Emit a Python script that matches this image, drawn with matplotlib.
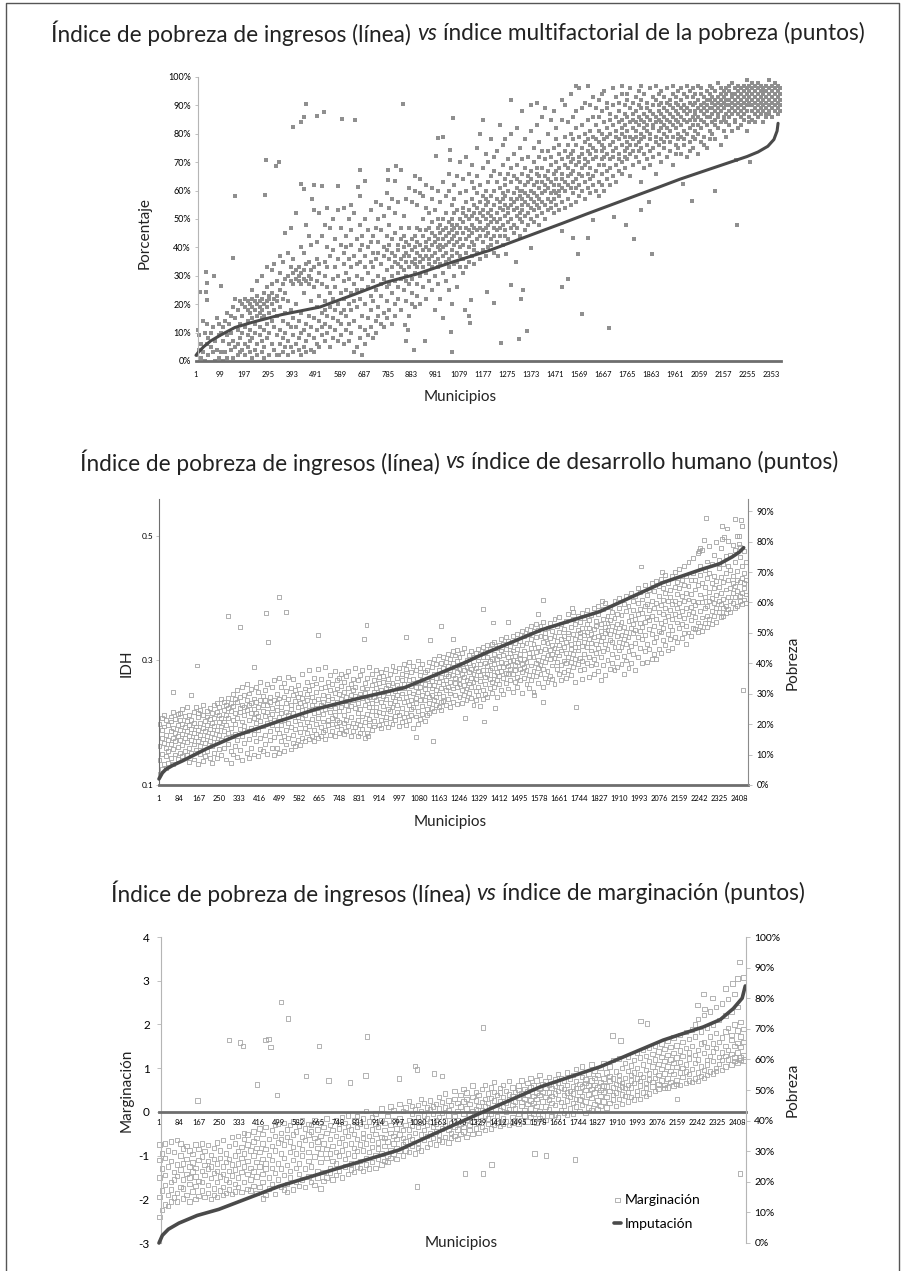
import matplotlib
matplotlib.use("Agg")
import matplotlib.pyplot as plt
from matplotlib.lines import Line2D

W, H = 903, 1271
FONT = "Lato"
DARK = "#4a4a4a"
AXIS = "#6e6e6e"
LIGHT = "#b5b5b5"

# poverty line: municipality rank, percent
mf_line_x = [1, 10, 32, 60, 99, 160, 234, 350, 508, 650, 781, 900, 1052, 1200, 1300, 1400, 1500, 1600, 1700, 1800,
             1900, 1980, 2100, 2200, 2255, 2300, 2340, 2365, 2378, 2382]
mf_line_y = [2, 3, 5, 7, 9, 11.8, 13.7, 16.3, 19, 23.5, 27.8, 30.5, 34.9, 38.9, 42.1, 45.3, 48.5, 51.8, 55, 58.2,
             61.4, 64, 67.5, 70.4, 72, 73.6, 75.6, 78, 81, 83.7]
idh_line_x = [1, 15, 30, 59, 100, 200, 328, 500, 655, 830, 1020, 1250, 1345, 1588, 1830, 2091, 2257, 2327, 2380, 2410, 2427]
idh_line_y = [2, 4, 5.2, 6.5, 8, 12, 16.4, 21, 25, 28.5, 32, 39.5, 43, 51, 57, 66.5, 71, 72.7, 75, 76.6, 78]
mar_line_x = [1, 15, 40, 84, 160, 250, 500, 750, 1000, 1150, 1241, 1338, 1588, 1838, 2100, 2267, 2338, 2392, 2429, 2442]
mar_line_y = [0, 2.5, 4.5, 6.5, 9, 11, 18.5, 24.5, 30.4, 35.8, 39, 42.4, 51, 57.6, 66.3, 70.6, 73, 76.6, 80, 84]

# multifactorial index (percent): stray points first, then the cloud by column
mf_outliers = [(451, 90.6), (396, 82.5), (430, 84.2), (444, 86), (494, 86.4), (525, 87.6), (599, 85.2), (651, 84.8),
               (846, 90.6), (1051, 85.7), (989, 78.6), (1012, 79), (981, 72.2), (1041, 74.4), (1038, 70.7), (287, 70.9),
               (340, 70), (329, 68.5), (161, 58.2), (285, 58.3), (154, 36.3), (42, 31.3), (76, 29.8), (48, 27.6),
               (105, 26.5), (16, 24.2), (40, 24.2), (46, 21.6), (671, 67.4), (788, 67.4), (820, 68.5), (840, 67.4),
               (691, 63.4), (785, 63.9), (816, 63.4), (432, 62.4), (441, 60.7), (483, 61.9), (515, 61.6), (583, 61.6),
               (664, 61.3), (474, 57.2), (2214, 48), (1865, 37.7), (1792, 43), (1759, 48), (1711, 50.7), (1820, 53),
               (1854, 56), (2028, 56.3), (2122, 59.7), (1995, 62.4), (2269, 70), (2209, 70.9), (1690, 11.6), (1578, 16.4),
               (1498, 26), (1524, 29), (1355, 10.6), (1322, 7.9), (1247, 6.5), (1330, 22), (1340, 24.9), (1220, 20.5),
               (1288, 26.8), (1190, 24.4), (1120, 13.5), (1116, 16), (1100, 17.8), (1125, 21.4), (1048, 3), (1045, 10.2),
               (1371, 39.8), (1310, 35), (1545, 43.3), (1606, 43.3), (1562, 37.8), (1625, 49.5), (1500, 45.8), (1238, 37),
               (1270, 37.8), (894, 4), (862, 7), (937, 7), (869, 11), (856, 12.6), (281, 1), (341, 2)]
mf_columns = [
    (5, [2, 11]), (13, [4, 9]), (21, [1, 6]), (28, [3, 14]), (37, [10, 0]),
    (46, [6, 13]), (52, [2, 8]), (61, [5, 10]), (69, [12, 3]), (78, [0, 7]),
    (86, [4, 15]), (95, [1, 9, 13]), (103, [10, 3]), (112, [7, 12, 0]), (119, [3, 14]),
    (128, [9, 1, 17]), (137, [13, 6]), (145, [4, 10, 16]), (154, [1, 19, 7]), (162, [15, 5, 22]),
    (171, [2, 11, 18, 6]), (183, [8, 21, 3, 13]), (191, [10, 4, 20, 16]), (203, [6, 19, 12, 22, 2]),
    (212, [14, 9, 18, 21, 5]), (220, [3, 17, 20, 11, 7]), (231, [19, 1, 15, 22, 8, 25]), (243, [13, 21, 4, 18, 10]),
    (251, [20, 6, 16, 23, 2, 28]), (262, [17, 9, 21, 12, 19]), (270, [3, 22, 15, 7, 18, 30]), (281, [20, 11, 24, 5, 16]),
    (292, [13, 21, 8, 19, 26, 33]), (301, [2, 17, 23, 10, 22]), (313, [6, 20, 14, 27, 24, 32]), (322, [12, 4, 22, 18, 34]),
    (334, [9, 23, 16, 2, 28, 21]), (343, [11, 25, 6, 19, 31, 37]), (355, [14, 3, 22, 8, 27, 35]), (366, [17, 10, 29, 24, 5, 45]),
    (378, [7, 13, 30, 2, 21, 38]), (389, [12, 28, 18, 5, 33, 47]), (398, [9, 31, 15, 3, 27, 36]), (409, [6, 29, 20, 12, 32, 52]),
    (421, [14, 4, 30, 8, 33, 28]), (430, [2, 27, 17, 31, 10, 40]), (441, [11, 29, 5, 32, 24, 38]), (450, [7, 34, 13, 28, 3, 48]),
    (463, [30, 16, 9, 27, 44, 35]), (472, [4, 32, 12, 29, 21, 41]), (483, [8, 26, 15, 33, 53, 3]), (494, [28, 11, 36, 19, 6, 42]),
    (506, [14, 31, 5, 23, 34, 52]), (515, [9, 27, 17, 44, 12]), (527, [21, 7, 35, 13, 30, 48, 18]), (538, [16, 26, 10, 40, 54, 33]),
    (549, [5, 24, 19, 37, 12, 47]), (561, [15, 29, 8, 39, 22, 50]), (570, [11, 33, 18, 43, 26]), (582, [20, 7, 36, 14, 53, 30]),
    (593, [13, 41, 24, 9, 47, 17]), (605, [28, 18, 38, 6, 34, 54, 22]), (613, [11, 31, 44, 16, 25, 40]), (626, [7, 20, 36, 50, 13, 29]),
    (637, [24, 41, 10, 33, 18, 46, 55]), (649, [3, 27, 14, 37, 52, 21]), (658, [30, 5, 43, 19, 34, 25]), (670, [12, 39, 22, 48, 8, 58, 35]),
    (682, [16, 29, 2, 44, 25, 41]), (691, [6, 33, 20, 37, 50, 11]), (703, [26, 15, 40, 9, 46, 31]), (715, [18, 35, 12, 42, 53, 23]),
    (724, [28, 8, 38, 21, 44, 33]), (736, [14, 47, 25, 36, 10, 56]), (747, [30, 19, 42, 16, 50, 38]), (758, [23, 34, 13, 55, 27, 46]),
    (769, [17, 40, 29, 37, 51, 12]), (781, [32, 21, 44, 15, 59, 26, 39]), (792, [36, 18, 48, 27, 41, 54]), (804, [24, 33, 13, 43, 30, 57, 38]),
    (815, [20, 37, 45, 28, 16, 52, 35]), (827, [31, 41, 22, 34, 56, 39, 26]), (838, [18, 36, 47, 29, 43, 33]), (850, [25, 40, 32, 51, 37, 44]),
    (861, [35, 28, 42, 21, 57, 38, 30]), (873, [33, 16, 41, 37, 47, 61, 27]), (884, [29, 39, 24, 35, 43, 56, 20]), (896, [36, 44, 31, 19, 40, 60, 65, 34]),
    (907, [27, 38, 33, 47, 23, 55, 42]), (919, [35, 41, 30, 59, 37, 20, 46, 64]), (931, [39, 26, 44, 33, 50, 36, 58]), (942, [31, 42, 22, 37, 46, 54, 40, 62]),
    (954, [36, 28, 43, 39, 52, 34, 47]), (965, [41, 25, 37, 45, 33, 57, 49, 61]), (977, [44, 30, 38, 35, 42, 53, 18]), (989, [36, 47, 40, 27, 43, 50, 60, 33]),
    (1000, [22, 39, 45, 34, 48, 41, 56]), (1012, [37, 43, 15, 31, 50, 46, 63, 40]), (1024, [47, 35, 41, 28, 44, 52, 38, 58]), (1035, [25, 42, 36, 49, 45, 60, 33, 66]),
    (1047, [39, 46, 20, 50, 37, 43, 55, 48]), (1058, [34, 44, 41, 52, 30, 47, 62, 57]), (1070, [48, 38, 26, 45, 35, 53, 42, 65]), (1082, [40, 33, 50, 43, 47, 59, 37, 70]),
    (1093, [45, 36, 54, 41, 31, 49, 64, 52]), (1105, [38, 47, 43, 56, 33, 51, 72, 60]), (1116, [44, 50, 35, 40, 53, 46, 66]), (1128, [48, 37, 42, 57, 51, 63, 45, 69]),
    (1139, [41, 52, 47, 34, 55, 39, 61]), (1151, [46, 43, 54, 59, 38, 50, 75, 65]), (1162, [49, 36, 56, 44, 52, 47, 80, 62]), (1174, [42, 51, 58, 46, 39, 53, 68, 85]),
    (1186, [55, 47, 37, 50, 44, 60, 73, 57]), (1197, [40, 52, 48, 63, 45, 56, 70]), (1209, [58, 43, 53, 49, 41, 65, 78, 51]), (1220, [47, 55, 38, 60, 50, 44, 67, 72]),
    (1232, [52, 46, 57, 42, 63, 49, 74]), (1244, [44, 56, 50, 61, 54, 47, 83, 66]), (1255, [59, 41, 53, 48, 69, 57, 76]), (1267, [46, 55, 62, 51, 44, 58, 78, 64]),
    (1278, [49, 60, 54, 43, 66, 52, 71]), (1290, [57, 47, 63, 50, 55, 80, 92, 68]), (1301, [45, 53, 59, 65, 48, 56, 73]), (1313, [61, 51, 47, 57, 69, 54, 82, 64]),
    (1325, [50, 58, 44, 63, 52, 75, 60]), (1336, [55, 49, 66, 60, 53, 88, 71, 57]), (1348, [46, 62, 56, 51, 68, 59, 78]), (1359, [52, 65, 48, 58, 63, 72, 55]),
    (1371, [60, 54, 67, 50, 57, 81, 90, 64]), (1383, [49, 56, 62, 70, 53, 75, 59]), (1394, [58, 66, 51, 63, 55, 83, 91, 68]), (1406, [54, 61, 48, 72, 57, 65, 77]),
    (1417, [63, 52, 59, 68, 56, 86, 74]), (1429, [50, 60, 65, 55, 71, 62, 89]), (1440, [57, 53, 67, 61, 74, 64, 80]), (1452, [59, 69, 54, 63, 56, 85, 72]),
    (1464, [52, 62, 57, 66, 75, 60, 88]), (1475, [64, 55, 70, 59, 67, 78, 82]), (1487, [58, 62, 53, 73, 68, 60, 76]), (1498, [66, 56, 61, 71, 64, 85, 92]),
    (1510, [60, 69, 54, 63, 74, 79, 90]), (1522, [57, 65, 72, 62, 68, 84, 76]), (1533, [61, 55, 70, 66, 80, 94, 73]), (1545, [67, 59, 74, 63, 71, 86, 78]),
    (1556, [56, 64, 69, 76, 61, 97, 82, 88]), (1568, [62, 72, 66, 58, 79, 70, 96]), (1580, [68, 60, 75, 65, 83, 73, 89]), (1591, [63, 71, 57, 77, 69, 91, 80]),
    (1603, [70, 61, 66, 74, 85, 97, 78]), (1614, [59, 73, 68, 81, 64, 90, 76]), (1626, [65, 75, 62, 71, 86, 79, 93]), (1638, [72, 67, 60, 78, 83, 74, 89]),
    (1649, [63, 69, 77, 58, 81, 92, 86]), (1661, [74, 66, 71, 80, 62, 88, 94, 76]), (1672, [60, 75, 69, 84, 78, 72, 95]), (1684, [67, 79, 73, 64, 82, 89, 91]),
    (1696, [71, 76, 62, 85, 80, 68, 87]), (1707, [77, 65, 83, 72, 90, 74, 96]), (1719, [69, 81, 75, 63, 86, 79, 93]), (1730, [73, 84, 67, 78, 91, 71, 88]),
    (1742, [80, 70, 76, 85, 66, 94, 82, 97]), (1754, [74, 83, 68, 79, 87, 90, 72]), (1765, [77, 71, 86, 81, 92, 75, 94]), (1777, [65, 84, 79, 73, 89, 76, 96]),
    (1789, [82, 69, 87, 74, 91, 78, 85]), (1800, [76, 81, 72, 88, 84, 93, 79]), (1812, [70, 86, 77, 83, 90, 74, 95]), (1823, [63, 80, 75, 89, 85, 92, 97, 78]),
    (1835, [84, 73, 79, 87, 68, 94, 82]), (1846, [71, 86, 81, 76, 91, 83, 89]), (1858, [78, 88, 69, 85, 80, 96, 74]), (1870, [83, 75, 90, 82, 87, 93, 72]),
    (1881, [66, 86, 79, 92, 84, 77, 97]), (1893, [81, 73, 88, 76, 90, 85, 94]), (1904, [70, 84, 78, 91, 87, 82, 95]), (1916, [86, 75, 89, 80, 93, 83, 77]),
    (1928, [72, 88, 82, 85, 96, 79, 91]), (1939, [84, 77, 90, 74, 87, 92, 81]), (1951, [69, 86, 79, 94, 83, 89, 97]), (1963, [82, 76, 91, 88, 73, 85, 93]),
    (1974, [78, 87, 84, 95, 80, 90, 75]), (1986, [89, 73, 83, 92, 86, 79, 96]), (1997, [76, 88, 81, 90, 85, 94, 78]), (2009, [84, 72, 93, 87, 80, 97, 89]),
    (2021, [77, 91, 85, 82, 95, 88, 74]), (2032, [90, 79, 86, 93, 83, 75, 96]), (2044, [81, 88, 94, 78, 91, 85, 87]), (2055, [73, 92, 86, 83, 89, 97, 80]),
    (2067, [85, 90, 77, 94, 88, 82, 96]), (2079, [79, 87, 93, 84, 91, 76, 89]), (2090, [92, 83, 88, 75, 95, 86, 90]), (2102, [81, 94, 89, 78, 86, 92, 97]),
    (2113, [87, 84, 91, 96, 80, 93, 89]), (2125, [78, 90, 95, 85, 88, 83, 92]), (2137, [93, 82, 89, 86, 98, 91, 87]), (2148, [76, 94, 90, 84, 92, 88, 96]),
    (2160, [86, 81, 93, 89, 95, 91, 85]), (2171, [90, 87, 79, 96, 92, 84, 94]), (2183, [83, 92, 88, 97, 90, 86, 95]), (2195, [94, 81, 89, 93, 87, 91, 98]),
    (2206, [85, 96, 90, 84, 92, 88, 94]), (2218, [91, 82, 95, 87, 93, 89, 97]), (2230, [86, 94, 90, 92, 83, 96, 88]), (2241, [93, 89, 85, 97, 91, 95, 87]),
    (2253, [81, 92, 96, 88, 94, 90, 99]), (2264, [90, 86, 93, 84, 95, 91, 97]), (2276, [94, 88, 92, 96, 85, 90, 98]), (2288, [87, 95, 91, 93, 89, 97, 84]),
    (2299, [92, 86, 94, 90, 98, 96, 88]), (2311, [89, 93, 87, 95, 91, 97]), (2322, [95, 90, 84, 92, 96, 88, 94]), (2334, [91, 87, 97, 93, 89, 95, 86]),
    (2345, [94, 90, 96, 88, 92, 99, 87]), (2357, [93, 89, 95, 91, 97, 86]), (2369, [88, 94, 92, 96, 90, 98]), (2380, [91, 87, 95, 93, 89, 97]),
    (2390, [92, 88, 96, 90, 94]),
]

# human development index, in thousandths
idh_outliers = [(499, 402), (286, 371), (445, 377), (528, 378), (337, 354), (454, 329), (662, 341), (862, 357),
                (852, 334), (1172, 355), (1124, 333), (1221, 335), (1025, 337), (157, 292), (60, 249), (395, 289),
                (134, 244), (1138, 171), (1069, 177), (868, 179), (2271, 529), (2336, 516), (2357, 512), (2391, 528),
                (2415, 526), (2263, 493), (2246, 481), (2240, 476), (2336, 495), (2346, 498), (2408, 487), (2408, 500),
                (2001, 451), (2088, 442), (1713, 385), (1593, 397), (1575, 374), (1346, 382), (1387, 361), (1450, 362),
                (1838, 395), (2425, 252), (1730, 226), (1272, 207), (1349, 202), (1596, 233), (1557, 244), (1394, 224)]
idh_columns = [
    (3, [117, 162, 140, 198]), (12, [125, 175, 150, 188, 208]), (21, [133, 194, 168, 212]), (31, [147, 181, 205, 128, 160]),
    (40, [172, 136, 196, 155]), (50, [186, 143, 210, 166, 202]), (59, [158, 192, 175, 218, 134]), (69, [149, 206, 183, 170]),
    (78, [197, 161, 178, 142, 214]), (88, [173, 215, 152, 189, 205]), (97, [164, 198, 182, 146, 222]), (107, [211, 176, 155, 193]),
    (116, [187, 148, 203, 169, 225]), (126, [159, 196, 213, 179, 137]), (135, [205, 172, 190, 152]), (145, [183, 218, 165, 141, 200]),
    (154, [194, 157, 226, 177]), (164, [209, 170, 188, 133, 216]), (173, [150, 199, 181, 221, 162]), (183, [212, 174, 139, 192, 229]),
    (192, [167, 203, 186, 147]), (202, [219, 178, 154, 197, 210]), (211, [190, 144, 224, 171, 206]), (221, [163, 215, 184, 200, 136]),
    (231, [195, 228, 176, 152, 208]), (240, [218, 169, 189, 143, 232]), (250, [201, 158, 213, 180, 225]), (259, [173, 238, 194, 148, 207]),
    (269, [221, 186, 160, 202, 234]), (278, [141, 197, 229, 175, 212]), (288, [208, 166, 240, 184, 223]), (298, [155, 219, 192, 135, 231]),
    (307, [227, 178, 204, 149, 246]), (317, [198, 216, 163, 238, 182]), (326, [145, 233, 207, 172, 252]), (336, [224, 190, 156, 218, 241]),
    (346, [178, 258, 202, 140, 229]), (355, [213, 168, 245, 195, 226]), (365, [151, 236, 186, 221, 262]), (374, [205, 247, 174, 143, 228]),
    (384, [231, 192, 160, 254, 215]), (394, [182, 239, 149, 208, 222]), (403, [258, 200, 170, 234, 216]), (413, [146, 225, 189, 249, 211]),
    (422, [176, 237, 158, 203, 265]), (432, [219, 154, 243, 194, 229]), (442, [166, 252, 211, 180, 236]), (451, [228, 150, 199, 262, 218]),
    (461, [241, 172, 207, 186, 233]), (470, [159, 224, 257, 196, 214]), (480, [204, 236, 148, 268, 177]), (490, [221, 190, 246, 160, 231]),
    (499, [152, 209, 272, 183, 239]), (509, [258, 197, 226, 171, 215]), (518, [178, 242, 205, 155, 264]), (528, [218, 188, 251, 232, 165]),
    (538, [200, 274, 175, 238, 212]), (547, [157, 229, 193, 256, 222]), (557, [244, 181, 215, 168, 270]), (566, [203, 235, 162, 252, 190]),
    (576, [225, 173, 260, 209, 241]), (586, [185, 248, 198, 164, 232]), (595, [220, 278, 176, 240, 207]), (605, [192, 255, 170, 228, 213]),
    (614, [236, 183, 266, 201, 246]), (624, [174, 221, 252, 195, 284]), (634, [242, 206, 178, 260, 229]), (643, [189, 272, 216, 171, 235]),
    (653, [224, 250, 198, 182, 263]), (662, [176, 238, 208, 286, 218]), (672, [256, 193, 228, 179, 271]), (682, [214, 245, 185, 234, 202]),
    (691, [188, 290, 222, 174, 258]), (701, [236, 204, 265, 196, 243]), (710, [180, 252, 217, 276, 227]), (720, [208, 239, 186, 262, 198]),
    (730, [248, 224, 178, 283, 212]), (739, [194, 268, 233, 205, 255]), (749, [219, 184, 246, 272, 201]), (758, [238, 190, 259, 226, 279]),
    (768, [182, 212, 250, 199, 266]), (778, [229, 275, 204, 241, 187]), (787, [256, 195, 221, 283, 235]), (797, [178, 244, 209, 262, 227]),
    (806, [200, 271, 186, 236, 252]), (816, [223, 258, 193, 243, 288]), (826, [179, 215, 268, 232, 205]), (835, [247, 197, 277, 222, 184]),
    (845, [210, 256, 239, 190, 285]), (854, [228, 201, 264, 176, 248]), (864, [183, 237, 272, 214, 255]), (874, [242, 206, 290, 225, 196]),
    (883, [261, 188, 231, 278, 219]), (893, [203, 250, 194, 241, 268]), (902, [226, 285, 212, 256, 236]), (912, [197, 245, 273, 218, 264]),
    (922, [234, 204, 282, 252, 192]), (931, [215, 266, 227, 275, 243]), (941, [199, 256, 238, 209, 286]), (950, [270, 222, 248, 193, 260]),
    (960, [207, 278, 231, 254, 219]), (970, [242, 198, 264, 291, 226]), (979, [211, 251, 283, 235, 204]), (989, [260, 217, 272, 245, 228]),
    (998, [195, 239, 288, 256, 213]), (1008, [268, 224, 247, 201, 279]), (1018, [233, 294, 255, 209, 262]), (1027, [216, 276, 241, 286, 197]),
    (1037, [250, 229, 205, 268, 297]), (1046, [237, 282, 213, 259, 222]), (1056, [192, 271, 247, 226, 291]), (1066, [258, 210, 284, 240, 232]),
    (1075, [198, 265, 219, 300, 250]), (1085, [277, 236, 206, 258, 288]), (1094, [244, 214, 295, 227, 268]), (1104, [203, 262, 281, 237, 254]),
    (1114, [285, 222, 248, 271, 212]), (1123, [231, 298, 260, 216, 242]), (1133, [267, 245, 223, 289, 255]), (1142, [219, 278, 236, 303, 261]),
    (1152, [252, 294, 229, 272, 241]), (1162, [226, 284, 247, 265, 308]), (1171, [274, 233, 256, 220, 296]), (1181, [243, 306, 262, 288, 235]),
    (1190, [228, 279, 252, 298, 268]), (1200, [258, 238, 310, 275, 291]), (1210, [247, 226, 284, 266, 302]), (1219, [296, 255, 234, 277, 315]),
    (1229, [264, 289, 244, 308, 272]), (1238, [230, 281, 257, 299, 317]), (1248, [271, 242, 305, 262, 287]), (1258, [253, 294, 232, 279, 312]),
    (1267, [285, 261, 245, 320, 274]), (1277, [236, 301, 268, 290, 255]), (1286, [309, 248, 282, 263, 296]), (1296, [272, 240, 315, 287, 258]),
    (1306, [293, 266, 229, 305, 278]), (1315, [251, 288, 312, 270, 236]), (1325, [283, 300, 257, 244, 318]), (1334, [267, 227, 295, 276, 310]),
    (1344, [305, 253, 285, 238, 322]), (1354, [274, 296, 262, 313, 246]), (1363, [291, 241, 306, 279, 325]), (1373, [256, 318, 284, 270, 299]),
    (1382, [302, 248, 327, 288, 265]), (1392, [277, 311, 258, 295, 330]), (1402, [242, 303, 281, 320, 269]), (1411, [290, 262, 325, 307, 275]),
    (1421, [316, 283, 252, 298, 334]), (1430, [272, 309, 289, 326, 246]), (1440, [296, 264, 318, 280, 337]), (1450, [305, 278, 331, 255, 291]),
    (1459, [286, 323, 268, 312, 299]), (1469, [250, 301, 340, 279, 316]), (1478, [328, 293, 266, 307, 284]), (1488, [274, 319, 343, 297, 258]),
    (1498, [310, 287, 332, 268, 302]), (1507, [295, 248, 325, 281, 347]), (1517, [339, 303, 272, 316, 290]), (1526, [262, 328, 298, 351, 284]),
    (1536, [312, 277, 343, 306, 256]), (1546, [292, 334, 269, 320, 355]), (1555, [305, 283, 347, 250, 326]), (1565, [338, 296, 275, 314, 359]),
    (1574, [264, 322, 349, 301, 288]), (1584, [315, 279, 340, 356, 293]), (1594, [330, 258, 305, 362, 286]), (1603, [297, 344, 272, 319, 338]),
    (1613, [352, 309, 283, 328, 266]), (1622, [275, 336, 360, 302, 317]), (1632, [325, 292, 348, 270, 311]), (1642, [340, 262, 304, 366, 320]),
    (1651, [287, 331, 355, 298, 314]), (1661, [308, 346, 278, 325, 370]), (1670, [358, 293, 334, 268, 316]), (1680, [322, 281, 351, 340, 300]),
    (1690, [296, 363, 312, 329, 272]), (1699, [345, 305, 374, 284, 336]), (1709, [318, 354, 276, 327, 298]), (1718, [366, 290, 342, 311, 378]),
    (1728, [302, 335, 358, 266, 321]), (1738, [349, 294, 372, 316, 328]), (1747, [285, 338, 304, 362, 345]), (1757, [324, 377, 299, 352, 270]),
    (1766, [341, 310, 368, 287, 330]), (1776, [358, 296, 322, 381, 346]), (1786, [274, 334, 365, 306, 352]), (1795, [316, 373, 292, 343, 328]),
    (1805, [350, 302, 385, 337, 278]), (1814, [327, 364, 312, 356, 295]), (1824, [374, 283, 340, 320, 388]), (1834, [305, 359, 331, 348, 269]),
    (1843, [382, 315, 293, 367, 338]), (1853, [344, 277, 326, 392, 354]), (1862, [301, 371, 349, 318, 360]), (1872, [333, 386, 286, 342, 365]),
    (1882, [356, 310, 378, 296, 329]), (1891, [284, 347, 396, 322, 368]), (1901, [375, 339, 306, 358, 289]), (1910, [316, 385, 352, 330, 400]),
    (1920, [362, 294, 341, 373, 321]), (1930, [335, 391, 307, 354, 278]), (1939, [379, 326, 404, 346, 300]), (1949, [288, 364, 337, 388, 315]),
    (1958, [352, 408, 323, 372, 296]), (1968, [311, 381, 344, 395, 359]), (1978, [403, 328, 366, 285, 349]), (1987, [338, 392, 305, 374, 416]),
    (1997, [360, 320, 410, 347, 383]), (2006, [296, 376, 398, 335, 354]), (2016, [387, 315, 421, 362, 341]), (2026, [326, 405, 370, 298, 390]),
    (2035, [413, 350, 381, 318, 365]), (2045, [342, 396, 303, 425, 372]), (2054, [384, 330, 411, 356, 310]), (2064, [366, 428, 337, 393, 302]),
    (2074, [318, 404, 378, 347, 420]), (2083, [431, 360, 389, 312, 345]), (2093, [374, 333, 416, 397, 352]), (2102, [325, 408, 364, 385, 438]),
    (2112, [395, 343, 424, 316, 371]), (2122, [356, 413, 334, 402, 381]), (2131, [320, 390, 435, 367, 349]), (2141, [418, 374, 338, 396, 442]),
    (2150, [361, 329, 407, 384, 426]), (2160, [392, 447, 352, 372, 416]), (2170, [336, 403, 379, 430, 358]), (2179, [421, 368, 344, 452, 395]),
    (2189, [385, 408, 356, 436, 327]), (2198, [345, 458, 398, 374, 419]), (2208, [429, 365, 407, 340, 386]), (2218, [378, 441, 352, 464, 395]),
    (2227, [414, 350, 389, 430, 370]), (2237, [394, 472, 361, 421, 346]), (2246, [438, 380, 406, 356, 452]), (2256, [369, 425, 478, 394, 348]),
    (2266, [446, 402, 360, 418, 384]), (2275, [388, 459, 372, 432, 354]), (2285, [410, 366, 484, 396, 440]), (2294, [455, 379, 424, 358, 400]),
    (2304, [392, 470, 416, 372, 436]), (2314, [428, 362, 405, 490, 384]), (2323, [378, 448, 418, 396, 462]), (2333, [434, 370, 480, 408, 390]),
    (2342, [399, 455, 384, 426, 372]), (2352, [468, 388, 414, 440, 376]), (2362, [382, 430, 402, 492, 452]), (2371, [416, 378, 446, 396, 470]),
    (2381, [436, 392, 486, 408, 424]), (2390, [402, 458, 384, 420, 478]), (2400, [388, 444, 412, 500, 430]), (2410, [426, 395, 466, 404, 482]),
    (2419, [408, 452, 390, 432, 516]), (2429, [398, 440, 416, 476, 424]), (2438, [406, 430, 392, 458]),
]

# marginalisation index, in hundredths
mar_outliers = [(508, 252), (537, 214), (866, 172), (293, 164), (339, 159), (350, 151), (445, 165), (457, 166),
                (466, 149), (668, 150), (162, 26), (408, 63), (612, 82), (706, 72), (860, 83), (797, 67),
                (493, 38), (1068, 105), (1075, 97), (999, 76), (1180, 82), (1146, 88), (1075, -171), (533, -183),
                (434, -198), (1351, 193), (2418, 343), (1276, -141), (1351, -141), (1386, -120), (2421, -141),
                (1564, -95), (1612, -100), (1734, -109), (2158, 30), (2005, 208), (2033, 202), (1889, 175), (1922, 163),
                (2268, 270), (2305, 260), (2243, 244), (2272, 235), (2359, 282), (2388, 294), (2409, 305), (2434, 307)]
mar_columns = [
    (3, [-240, -150, -195, -110, -75]), (14, [-225, -130, -180, -95]), (27, [-212, -105, -168, -145, -72]), (39, [-190, -88, -215, -125]),
    (52, [-160, -205, -112, -68, -178]), (64, [-138, -92, -196, -155]), (77, [-185, -120, -65, -205, -147]), (90, [-100, -172, -132, -72]),
    (102, [-198, -155, -84, -118, -175]), (115, [-142, -78, -190, -108]), (128, [-205, -125, -165, -88, -150]), (141, [-96, -182, -136, -116]),
    (153, [-170, -75, -200, -128, -148]), (166, [-110, -158, -85, -192]), (179, [-135, -180, -102, -72, -160]), (191, [-195, -122, -145, -90]),
    (204, [-112, -168, -76, -185, -130]), (217, [-152, -98, -200, -125]), (229, [-82, -175, -140, -108, -190]), (242, [-160, -70, -118, -195, -135]),
    (255, [-105, -180, -148, -88]), (268, [-172, -125, -65, -142, -190]), (280, [-95, -155, -115, -185]), (293, [-135, -78, -178, -108, -160]),
    (306, [-188, -120, -58, -146]), (318, [-100, -165, -72, -132, -182]), (331, [-150, -55, -118, -90, -172]), (344, [-184, -80, -138, -106]),
    (356, [-125, -62, -160, -48, -95]), (369, [-176, -112, -75, -142, -52]), (382, [-88, -155, -128, -180]), (394, [-68, -170, -100, -45, -136]),
    (407, [-115, -186, -82, -148, -60]), (420, [-172, -38, -125, -92]), (432, [-108, -160, -72, -142, -50]), (445, [-190, -85, -130, -35, -118]),
    (458, [-150, -62, -175, -98]), (471, [-78, -128, -42, -165, -110]), (483, [-188, -55, -140, -88, -30]), (496, [-118, -70, -155, -28]),
    (509, [-172, -95, -48, -130, -62]), (521, [-145, -25, -105, -178, -75]), (534, [-58, -165, -122, -40]), (547, [-92, -150, -30, -135, -68]),
    (559, [-178, -52, -110, -80, -22]), (572, [-128, -160, -45, -95]), (585, [-72, -142, -32, -118, -170]), (597, [-58, -100, -155, -20, -85]),
    (610, [-130, -38, -172, -65]), (623, [-92, -148, -52, -112, -28]), (635, [-160, -75, -30, -125, -45]), (648, [-102, -168, -60, -18]),
    (661, [-135, -82, -40, -150, -68]), (674, [-175, -55, -115, -25, -95]), (686, [-72, -138, -35, -158]), (699, [-105, -48, -150, -85, -15]),
    (712, [-128, -62, -30, -140, -95]), (724, [-155, -78, -42, -112]), (737, [-55, -145, -92, -20, -118]), (750, [-70, -135, -38, -100, -28]),
    (762, [-150, -60, -88, -12]), (775, [-125, -45, -108, -75, -25]), (788, [-95, -142, -55, -32, -8]), (800, [-72, -118, -40, -132]),
    (813, [-100, -50, -20, -138, -82]), (826, [-62, -125, -35, -90, -10]), (838, [-112, -75, -28, -128]), (851, [-48, -135, -88, -15, -60]),
    (864, [-105, -32, -72, -120, 2]), (876, [-55, -130, -92, -22]), (889, [-80, -40, -115, -12, -65]), (902, [-128, -50, -98, -4, -28]),
    (914, [-70, -108, -35, -84]), (927, [-18, -120, -58, -95, 8]), (940, [-78, -42, -112, -25, -60]), (952, [-100, -10, -68, -115]),
    (965, [-48, -88, -30, -105, 12]), (978, [-72, -20, -95, -55, 4]), (990, [-108, -38, -82, -62]), (1003, [-15, -90, -52, -28, 18]),
    (1016, [-75, -100, -42, 2, -60]), (1028, [-30, -88, -68, 10]), (1041, [-55, -18, -92, -40, 25]), (1054, [-78, -5, -62, -32, 14]),
    (1066, [-95, -48, -22, 6]), (1079, [-70, -35, -82, 16, -12]), (1092, [-52, -88, -25, 2, 30]), (1104, [-65, -8, -42, 20]),
    (1117, [-80, -30, -55, 10, -15]), (1130, [-48, 5, -72, -22, 26]), (1142, [-60, -35, 12, -5]), (1155, [-75, -18, -45, 18, -28]),
    (1168, [-52, 8, -65, -12, 34]), (1180, [-38, -68, 22, -2]), (1193, [-58, -20, 10, -30, 42]), (1206, [-70, -8, -42, 26, 4]),
    (1218, [-48, 16, -25, -60]), (1231, [-35, -55, 30, -10, 48]), (1244, [-62, 2, -20, 20, -40]), (1256, [-28, 38, -50, 12]),
    (1269, [-45, -5, 24, -35, 52]), (1282, [-58, 8, -18, 44, 30]), (1294, [-30, 18, -42, -8]), (1307, [-50, 34, 2, -22, 60]),
    (1320, [-12, -38, 26, 46, 6]), (1332, [-48, 14, -25, 38]), (1345, [-18, 52, -35, 22, 4]), (1358, [-42, 30, -8, 62, 12]),
    (1370, [-28, 42, -15, 20]), (1383, [-38, 8, 56, -5, 32]), (1396, [-20, 26, 68, -30, 46]), (1408, [-10, 38, -25, 16]),
    (1421, [-32, 54, 4, 24, 44]), (1434, [-15, 34, -28, 62, 12]), (1446, [-22, 48, 20, 0]), (1459, [6, -30, 40, 28, 70]),
    (1472, [-12, 56, 16, -25, 36]), (1484, [24, -18, 46, 8]), (1497, [-28, 32, 60, -4, 50]), (1510, [14, -20, 42, 72, 22]),
    (1522, [-8, 52, 30, 4]), (1535, [-22, 38, 66, 18, 48]), (1548, [-12, 26, 78, 8, 56]), (1560, [36, -5, 60, 20]),
    (1573, [-24, 44, 14, 72, 30]), (1586, [2, 52, -15, 38, 84]), (1598, [24, 64, -8, 46]), (1611, [-18, 34, 70, 12, 56]),
    (1624, [6, 44, 80, 28, 62]), (1636, [-10, 54, 20, 36]), (1649, [16, 74, -6, 42, 60]), (1662, [30, -12, 66, 48, 86]),
    (1674, [4, 56, 22, 78]), (1687, [38, -2, 70, 14, 52]), (1700, [26, 62, 90, 44, -6]), (1713, [8, 48, 76, 34]),
    (1725, [-4, 58, 20, 84, 42]), (1738, [30, 70, 12, 54, 98]), (1751, [46, 2, 64, 28]), (1763, [80, 16, 36, 58, 104]),
    (1776, [-2, 50, 74, 24, 66]), (1789, [10, 88, 40, 60]), (1801, [32, 72, 4, 52, 108]), (1814, [18, 62, 94, 44, 78]),
    (1827, [6, 56, 26, 84]), (1839, [68, 36, 100, 14, 50]), (1852, [24, 76, 112, 46, 60]), (1865, [90, 10, 58, 34]),
    (1877, [70, 20, 48, 104, 82]), (1890, [38, 118, 56, 28, 76]), (1903, [64, 14, 92, 44]), (1915, [84, 30, 122, 52, 72]),
    (1928, [18, 66, 100, 40, 58]), (1941, [78, 36, 112, 54]), (1953, [24, 94, 62, 126, 46]), (1966, [72, 34, 106, 56, 84]),
    (1979, [28, 118, 66, 90]), (1991, [48, 136, 76, 38, 100]), (2004, [86, 60, 30, 124, 70]), (2017, [44, 108, 80, 142]),
    (2029, [66, 36, 96, 128, 54]), (2042, [116, 74, 42, 146, 88]), (2055, [58, 104, 132, 68]), (2067, [92, 48, 152, 78, 120]),
    (2080, [64, 110, 52, 138, 84]), (2093, [98, 156, 72, 126]), (2105, [54, 116, 88, 144, 62]), (2118, [130, 76, 104, 162, 56]),
    (2131, [94, 148, 68, 120]), (2143, [60, 112, 170, 86, 134]), (2156, [102, 72, 152, 124, 64]), (2169, [176, 90, 140, 62, 114]),
    (2181, [80, 128, 160, 100]), (2194, [66, 146, 108, 182, 92]), (2207, [122, 72, 166, 136, 86]), (2219, [188, 98, 150, 68]),
    (2232, [112, 76, 172, 130, 200]), (2245, [90, 142, 70, 212, 120]), (2257, [156, 104, 184, 82]), (2270, [78, 134, 222, 96, 160]),
    (2283, [118, 192, 84, 148, 108]), (2295, [172, 92, 230, 128]), (2308, [88, 156, 116, 200, 138]), (2321, [180, 100, 240, 94, 146]),
    (2333, [126, 210, 110, 160]), (2346, [96, 170, 136, 248, 118]), (2359, [150, 104, 220, 128, 184]), (2371, [258, 120, 192, 142]),
    (2384, [108, 164, 132, 228, 176]), (2397, [200, 116, 150, 270, 124]), (2409, [136, 186, 112, 240, 158]), (2422, [124, 172, 148, 206, 118]),
    (2434, [130, 160, 116, 190]),
]

mf_xticks = [1, 99, 197, 295, 393, 491, 589, 687, 785, 883, 981, 1079, 1177, 1275, 1373, 1471, 1569,
             1667, 1765, 1863, 1961, 2059, 2157, 2255, 2353]
idh_xticks = [1, 84, 167, 250, 333, 416, 499, 582, 665, 748, 831, 914, 997, 1080, 1163, 1246, 1329, 1412,
              1495, 1578, 1661, 1744, 1827, 1910, 1993, 2076, 2159, 2242, 2325, 2408]
pct_ticks = [0, 10, 20, 30, 40, 50, 60, 70, 80, 90, 100]


def flatten(outliers, columns):
    xs = [p[0] for p in outliers]
    ys = [p[1] for p in outliers]
    for x, col in columns:
        for y in col:
            xs.append(x)
            ys.append(y)
    return xs, ys


def px_axes(fig, left, top, right, bottom):
    return fig.add_axes([left / W, 1 - bottom / H, (right - left) / W, (bottom - top) / H])


def title_row(fig, y, before, after, xcenter, size):
    # three pieces because only "vs" is italic
    fig.canvas.draw()
    rend = fig.canvas.get_renderer()
    pieces = [fig.text(0, 1 - y / H, s, fontsize=size, family=FONT, fontstyle=st, va="center", color="#222222")
              for s, st in [(before, "normal"), ("vs", "italic"), (after, "normal")]]
    widths = [p.get_window_extent(rend).width for p in pieces]
    gap = size * 0.36
    x = xcenter - (sum(widths) + 2 * gap) / 2
    for p, w in zip(pieces, widths):
        p.set_x(x / W)
        x += w + gap


def pct_labels(ticks):
    return ["%d%%" % t for t in ticks]


def clean(ax):
    for side in ["top", "right"]:
        ax.spines[side].set_visible(False)
    ax.patch.set_alpha(0)


def label(fig, x, y, s, rotation=0, size=11):
    fig.text(x / W, 1 - y / H, s, fontsize=size, family=FONT, rotation=rotation, ha="center", va="center", color="#222222")


fig = plt.figure(figsize=(W / 100, H / 100), dpi=100)

# page frame, open at the bottom
fig.add_artist(Line2D([6 / W, 6 / W, 899 / W, 899 / W], [0, 1 - 3 / H, 1 - 3 / H, 0], color="#555555", lw=1.0))

title_row(fig, 33, "Índice de pobreza de ingresos (línea)", "índice multifactorial de la pobreza (puntos)", 458, 16.3)
title_row(fig, 462, "Índice de pobreza de ingresos (línea)", "índice de desarrollo humano (puntos)", 459, 16.3)
title_row(fig, 893, "Índice de pobreza de ingresos (línea)", "índice de marginación (puntos)", 458, 16.3)

# panel 1
ax1 = px_axes(fig, 196, 77, 781, 361)
clean(ax1)
x1, y1 = flatten(mf_outliers, mf_columns)
ax1.scatter(x1, y1, s=9, marker="s", color="#8f8f8f", linewidths=0, clip_on=True)
ax1.plot(mf_line_x, mf_line_y, color=DARK, lw=2.2, solid_capstyle="round", clip_on=False)
ax1.set_xlim(1, 2394)
ax1.set_ylim(0, 100)
ax1.spines["left"].set_position(("data", 9))
ax1.spines["left"].set_color(LIGHT)
ax1.spines["bottom"].set_color(AXIS)
ax1.spines["bottom"].set_linewidth(2)
ax1.set_yticks(pct_ticks)
ax1.set_yticklabels(pct_labels(pct_ticks), fontsize=6.5, family=FONT)
ax1.tick_params(axis="y", length=2, width=0.6, color=LIGHT, pad=3)
ax1.set_xticks(mf_xticks)
ax1.set_xticklabels(mf_xticks, fontsize=5.4, family=FONT)
ax1.tick_params(axis="x", length=0, pad=7)
label(fig, 460, 397, "Municipios")
label(fig, 145, 233, "Porcentaje", rotation=90)

# panel 2
ax2 = px_axes(fig, 159, 499, 748, 785)
clean(ax2)
x2, y2 = flatten(idh_outliers, idh_columns)
ax2.scatter(x2, [v / 1000 for v in y2], s=8, marker="s", facecolors="none", edgecolors="#a2a2a2", linewidths=0.6, clip_on=False)
ax2.set_xlim(1, 2445)
ax2.set_ylim(0.1, 0.5594)
ax2.spines["left"].set_color(AXIS)
ax2.spines["left"].set_linewidth(0.8)
ax2.spines["bottom"].set_color(AXIS)
ax2.spines["bottom"].set_linewidth(2)
ax2.set_yticks([0.1, 0.3, 0.5])
ax2.set_yticklabels(["0.1", "0.3", "0.5"], fontsize=6, family=FONT)
ax2.tick_params(axis="y", length=2, width=0.6, color=LIGHT, pad=2)
ax2.set_xticks(idh_xticks)
ax2.set_xticklabels(idh_xticks, fontsize=5.4, family=FONT)
ax2.tick_params(axis="x", length=0, pad=7)
ax2r = ax2.twinx()
ax2r.patch.set_alpha(0)
ax2r.plot(idh_line_x, idh_line_y, color=DARK, lw=2.6, solid_capstyle="round", clip_on=False)
ax2r.set_ylim(0, 94)
ax2r.set_yticks(pct_ticks[:-1])
ax2r.set_yticklabels(pct_labels(pct_ticks[:-1]), fontsize=6.5, family=FONT)
ax2r.tick_params(axis="y", length=3, width=0.6, color=LIGHT, pad=3)
ax2r.spines["top"].set_visible(False)
ax2r.spines["left"].set_visible(False)
ax2r.spines["bottom"].set_visible(False)
ax2r.spines["right"].set_color("#8a8a8a")
label(fig, 450, 822, "Municipios")
label(fig, 127, 663, "IDH", rotation=90)
label(fig, 793, 663, "Pobreza", rotation=90)

# panel 3
ax3 = px_axes(fig, 159, 937, 746, 1243)
clean(ax3)
x3, y3 = flatten(mar_outliers, mar_columns)
marks = ax3.scatter(x3, [v / 100 for v in y3], s=10, marker="s", facecolors="none", edgecolors="#a6a6a6", linewidths=0.6,
                    clip_on=False, label="Marginación")
ax3.set_xlim(1, 2445)
ax3.set_ylim(-3, 4)
ax3.spines["left"].set_position(("data", 9))
ax3.spines["left"].set_color(LIGHT)
ax3.spines["bottom"].set_position(("data", 0))
ax3.spines["bottom"].set_color(AXIS)
ax3.spines["bottom"].set_linewidth(2)
ax3.set_yticks([-3, -2, -1, 0, 1, 2, 3, 4])
ax3.set_yticklabels(["-3", "-2", "-1", "0", "1", "2", "3", "4"], fontsize=8.5, family=FONT)
ax3.tick_params(axis="y", length=3, width=0.6, color=LIGHT, pad=5)
ax3.set_xticks(idh_xticks)
ax3.set_xticklabels(idh_xticks, fontsize=5.4, family=FONT)
ax3.tick_params(axis="x", length=0, pad=5)
ax3r = ax3.twinx()
ax3r.patch.set_alpha(0)
line3, = ax3r.plot(mar_line_x, mar_line_y, color=DARK, lw=2.6, solid_capstyle="round", clip_on=False, label="Imputación")
ax3r.set_ylim(0, 100)
ax3r.set_yticks(pct_ticks)
ax3r.set_yticklabels(pct_labels(pct_ticks), fontsize=7.5, family=FONT)
ax3r.tick_params(axis="y", length=3, width=0.6, color=LIGHT, pad=3)
ax3r.spines["top"].set_visible(False)
ax3r.spines["left"].set_visible(False)
ax3r.spines["bottom"].set_visible(False)
ax3r.spines["right"].set_color(LIGHT)
label(fig, 461, 1243, "Municipios")
label(fig, 127, 1090, "Marginación", rotation=90)
label(fig, 793, 1090, "Pobreza", rotation=90)

fig.legend(handles=[marks, line3], loc="upper left", bbox_to_anchor=(607 / W, 1 - 1187 / H), frameon=False,
           handlelength=0.5, handletextpad=0.3, labelspacing=0.85, borderpad=0, prop={"family": FONT, "size": 10})

fig.savefig("out.png", dpi=100)
